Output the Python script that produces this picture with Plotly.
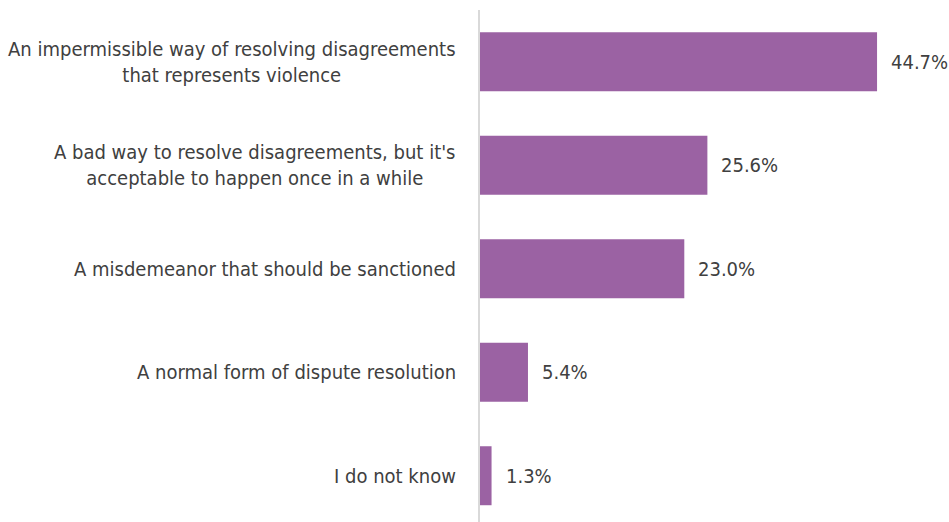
import plotly.graph_objects as go

categories = [
    "An impermissible way of resolving disagreements<br>that represents violence",
    "A bad way to resolve disagreements, but it's<br>acceptable to happen once in a while",
    "A misdemeanor that should be sanctioned",
    "A normal form of dispute resolution",
    "I do not know",
]
values = [44.7, 25.6, 23.0, 5.4, 1.3]
value_labels = ["44.7%", "25.6%", "23.0%", "5.4%", "1.3%"]

FONT = "DejaVu Sans Condensed, Roboto, sans-serif"
TEXT_COLOR = "#404040"
BAR_COLOR = "#9b62a3"

fig = go.Figure(
    go.Bar(
        x=values,
        y=categories,
        orientation="h",
        marker=dict(color=BAR_COLOR, line=dict(width=0)),
        width=0.57,
        hoverinfo="skip",
    )
)

# category labels, centred line by line, right-aligned against the axis
for cat in categories:
    fig.add_annotation(
        x=0, xref="paper", y=cat, yref="y",
        text=cat, showarrow=False,
        xanchor="right", yanchor="middle", align="center",
        xshift=-22,
        font=dict(family=FONT, size=20, color=TEXT_COLOR),
    )

# value labels just past the end of each bar
for cat, v, lab in zip(categories, values, value_labels):
    fig.add_annotation(
        x=v, xref="x", y=cat, yref="y",
        text=lab, showarrow=False,
        xanchor="left", yanchor="middle",
        xshift=12,
        font=dict(family=FONT, size=20, color=TEXT_COLOR),
    )

fig.update_layout(
    width=949, height=522,
    margin=dict(l=480, r=0, t=10, b=0),
    paper_bgcolor="white", plot_bgcolor="white",
    showlegend=False,
    xaxis=dict(range=[0, 52.8], visible=False, fixedrange=True),
    yaxis=dict(
        type="category",
        categoryorder="array", categoryarray=categories,
        range=[4.447, -0.5],
        showticklabels=False, ticks="",
        showgrid=False, zeroline=False,
        showline=True, linecolor="#d9d9d9", linewidth=2,
        fixedrange=True,
    ),
)

fig.write_html("out.html")
